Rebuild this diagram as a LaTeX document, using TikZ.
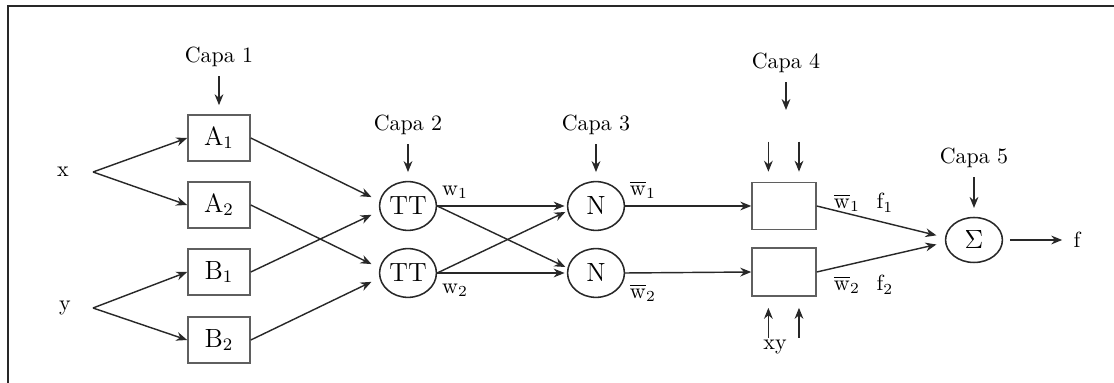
\documentclass[tikz,border=0pt]{standalone}
\usepackage{amsmath}
\usetikzlibrary{shapes.geometric, arrows.meta, positioning}
\definecolor{mydark}{RGB}{40,40,40}
\definecolor{mygray}{RGB}{95,95,95}
\tikzset{
  block/.style={rectangle, draw=mygray, line width=0.8pt, minimum width=0.99cm, minimum height=0.74cm, inner sep=0pt, font=\large},
  neuron/.style={ellipse, draw=mydark, line width=0.7pt, minimum width=0.91cm, minimum height=0.78cm, inner sep=0pt, font=\large},
  arrow/.style={-{Stealth[length=5pt,width=4pt]}, line width=0.65pt, color=mydark},
  gap/.style={arrow, shorten <=3pt, shorten >=4pt},
  lbl/.style={inner sep=1pt, font=\normalsize}
}

\begin{document}
\begin{tikzpicture}[x=0.016cm, y=-0.016cm]
  \useasboundingbox (0,0) rectangle (1114,383);
  % Frame
  \draw[line width=1pt, mydark] (8,383) -- (8,6) -- (1114,6);

  % Inputs
  \node[lbl] (x) at (63,172) {x};
  \node[lbl] (y) at (65,308) {y};
  \coordinate (xs) at (93,172);
  \coordinate (ys) at (93,308);

  % Layer 1
  \node[lbl] (capa1) at (219,57) {Capa 1};
  \node[block] (a1) at (219,138) {$\mathrm{A}_1$};
  \node[block] (a2) at (219,205) {$\mathrm{A}_2$};
  \node[block] (b1) at (219,272) {$\mathrm{B}_1$};
  \node[block] (b2) at (219,340) {$\mathrm{B}_2$};
  \draw[gap] (capa1) -- (a1);
  \draw[arrow] (xs) -- (a1.west);
  \draw[arrow] (xs) -- (a2.west);
  \draw[arrow] (ys) -- (b1.west);
  \draw[arrow] (ys) -- (b2.west);

  % Layer 2
  \node[lbl] (capa2) at (408,125) {Capa 2};
  \node[neuron] (tt1) at (408,206) {TT};
  \node[neuron] (tt2) at (408,273) {TT};
  \draw[gap] (capa2) -- (tt1);
  \draw[arrow, shorten >=4pt] (a1.east) -- (tt1.170);
  \draw[arrow, shorten >=4pt] (b1.east) -- (tt1.190);
  \draw[arrow, shorten >=4pt] (a2.east) -- (tt2.170);
  \draw[arrow, shorten >=4pt] (b2.east) -- (tt2.190);
  \node[lbl] (w1) at (455,192) {$\mathrm{w}_1$};
  \node[lbl] (w2) at (455,290) {$\mathrm{w}_2$};

  % Layer 3
  \node[lbl] (capa3) at (596,125) {Capa 3};
  \node[neuron] (n1) at (596,206) {N};
  \node[neuron] (n2) at (596,273) {N};
  \draw[gap] (capa3) -- (n1);
  \draw[arrow, shorten >=1pt] (tt1.east) -- (n1.west);
  \draw[arrow, shorten >=1pt] (tt1.east) -- (n2.170);
  \draw[arrow, shorten >=1pt] (tt2.east) -- (n1.190);
  \draw[arrow, shorten >=1pt] (tt2.east) -- (n2.west);
  \node[lbl] (wb1) at (643,190) {$\overline{\mathrm{w}}_1$};
  \node[lbl] (wb2) at (643,293) {$\overline{\mathrm{w}}_2$};

  % Layer 4
  \node[lbl] (capa4) at (786,63) {Capa 4};
  \coordinate (c4) at (786,110);
  \node[block, minimum width=1.02cm, minimum height=0.75cm] (p1) at (784,206) {};
  \node[block, minimum width=1.02cm, minimum height=0.76cm] (p2) at (784,272) {};
  \draw[arrow, shorten <=3pt] (capa4) -- (c4);
  \draw[arrow] (n1.east) -- (p1.west);
  \draw[arrow] (n2.east) -- (p2.west);
  \foreach \dx in {-2.5mm, 2.4mm} {
    \draw[arrow] ([xshift=\dx, yshift=6.4mm]p1.north) -- ([xshift=\dx, yshift=1.6mm]p1.north);
    \draw[arrow] ([xshift=\dx, yshift=-6.6mm]p2.south) -- ([xshift=\dx, yshift=-1.8mm]p2.south);
  }
  \node[lbl] (xy) at (775,347) {xy};
  \node[lbl] (wf1a) at (847,203) {$\overline{\mathrm{w}}_1$};
  \node[lbl] (wf1b) at (885,203) {$\mathrm{f}_1$};
  \node[lbl] (wf2a) at (847,285) {$\overline{\mathrm{w}}_2$};
  \node[lbl] (wf2b) at (885,285) {$\mathrm{f}_2$};

  % Layer 5
  \node[lbl] (capa5) at (974,158) {Capa 5};
  \node[neuron, minimum height=0.72cm] (sum) at (974,240) {$\Sigma$};
  \node[lbl] (f) at (1077,240) {f};
  \draw[gap] (capa5) -- (sum);
  \draw[arrow, shorten >=4pt] (p1.east) -- (sum.175);
  \draw[arrow, shorten >=4pt] (p2.east) -- (sum.185);
  \draw[gap] (sum) -- (f);
\end{tikzpicture}
\end{document}
